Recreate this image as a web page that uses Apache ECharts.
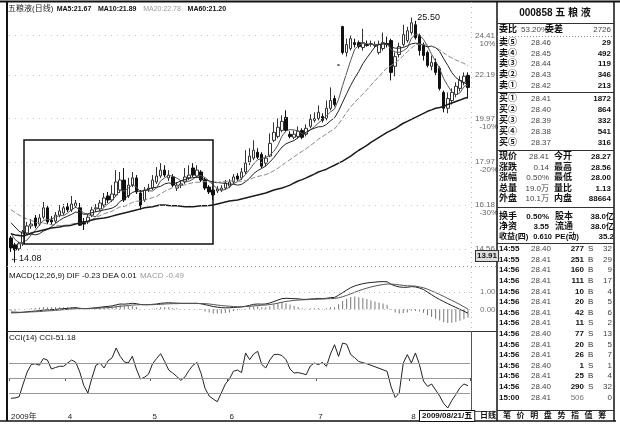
<!DOCTYPE html>
<html><head><meta charset="utf-8">
<script src="https://cdn.jsdelivr.net/npm/echarts@6/dist/echarts.min.js"></script>
<style>html,body{margin:0;padding:0;background:#fff}#c{width:620px;height:426px}</style>
</head><body><div id="c"></div>
<script>
// ---------- data ----------
// candlestick: [open, close, low, high]
const ohlc = [
[14.95,14.59,14.45,15.02],[14.70,14.52,14.08,14.77],[14.56,14.74,14.49,14.81],[14.74,15.17,14.66,15.24],[15.13,15.39,15.06,15.54],
[15.39,15.46,15.28,15.65],[15.69,15.39,15.31,15.80],[15.46,15.69,15.39,15.84],[15.72,16.08,15.65,16.31],[16.08,15.54,15.46,16.16],
[15.61,15.54,15.42,15.76],[15.57,15.80,15.50,15.92],[15.80,15.96,15.72,16.19],[15.88,16.08,15.80,16.23],[16.12,16.00,15.92,16.27],
[16.00,16.23,15.92,16.55],[16.16,16.27,16.08,16.39],[16.08,15.42,15.39,16.27],[15.54,15.46,15.24,15.69],[15.54,15.72,15.46,15.84],
[15.80,16.00,15.72,16.12],[16.04,16.08,15.92,16.23],[16.04,16.27,15.96,16.39],[16.19,16.47,16.12,16.67],[16.55,16.39,16.27,16.71],
[16.39,16.63,16.31,16.99],[16.59,17.12,16.51,17.62],[16.79,17.20,16.67,17.54],[17.20,16.39,16.31,17.71],[16.55,16.99,16.47,17.29],
[16.99,17.29,16.91,17.54],[17.29,16.71,16.63,17.41],[16.67,16.16,16.00,16.79],[16.39,16.79,16.31,16.91],[16.83,16.87,16.71,17.04],
[16.87,17.20,16.79,17.41],[17.12,17.37,17.04,17.75],[17.37,17.62,17.29,17.92],[17.62,17.41,17.33,17.83],[17.29,17.41,17.16,17.62],
[17.33,16.99,16.91,17.45],[16.87,16.99,16.75,17.12],[16.99,17.04,16.87,17.16],[17.12,17.33,17.04,17.71],[17.29,17.41,17.20,17.83],
[17.71,17.41,17.33,17.92],[17.37,17.62,17.29,17.83],[17.54,17.20,17.12,17.62],[17.20,16.87,16.79,17.29],[16.91,16.71,16.63,16.99],
[16.79,16.59,16.39,16.95],[16.75,16.83,16.67,16.95],[16.79,16.87,16.71,16.99],[16.87,17.08,16.79,17.20],[16.95,17.12,16.87,17.24],
[17.12,17.33,17.04,17.45],[17.37,17.24,17.16,17.49],[17.29,17.54,17.20,17.71],[17.54,17.92,17.45,18.49],[17.97,18.23,17.83,18.58],
[18.14,18.49,18.05,18.94],[18.40,18.18,18.10,18.58],[18.31,17.79,17.71,18.40],[17.92,18.14,17.79,18.27],[18.23,18.80,18.18,19.26],
[18.94,19.31,18.85,19.78],[19.12,19.55,19.03,19.97],[19.40,19.83,19.31,20.12],[20.02,19.40,19.31,20.37],[19.22,19.12,19.03,19.36],
[19.08,19.22,18.99,19.40],[19.12,19.36,19.03,19.59],[19.40,19.08,18.99,19.50],[19.22,19.50,19.12,19.69],[19.59,19.93,19.50,20.17],
[19.88,19.97,19.78,20.27],[19.97,20.27,19.88,20.61],[20.07,19.88,19.78,20.22],[19.97,20.47,19.88,20.86],[20.47,20.86,20.37,21.53],
[20.96,20.66,20.56,21.12],[22.73,22.73,22.73,22.73],[24.95,23.43,23.32,25.00],[23.43,23.89,23.20,24.23],[23.66,24.23,23.54,24.41],
[24.00,23.89,23.72,24.23],[24.00,23.77,23.66,24.12],[23.72,24.00,23.54,24.82],[23.89,23.83,23.77,24.12],[23.89,23.95,23.77,24.12],
[23.83,23.89,23.72,24.06],[23.43,23.89,23.32,24.12],[23.66,24.00,23.54,24.59],[23.95,23.89,23.72,24.35],[24.12,22.33,21.90,24.23],
[22.66,23.20,22.12,23.43],[23.32,23.77,23.15,24.00],[23.89,24.47,23.77,25.06],[24.12,24.70,24.00,24.94],[24.59,25.18,24.47,25.50],
[25.06,24.29,24.18,25.30],[24.41,23.54,23.26,24.53],[23.83,23.26,22.98,24.00],[23.43,22.71,22.60,23.54],[22.66,22.87,22.44,23.26],
[22.87,22.33,22.17,23.09],[22.55,21.48,21.37,22.66],[21.27,20.47,20.27,21.37],[20.47,20.96,20.22,21.27],[20.86,21.27,20.66,21.48],
[21.17,21.59,21.02,21.80],[21.48,21.90,21.32,22.12],[21.80,22.12,21.64,22.33],[22.17,21.53,20.96,22.33]
];
const ma5 = [15.11,14.89,14.78,14.79,14.88,15.06,15.23,15.42,15.60,15.63,
15.65,15.73,15.78,15.78,15.88,16.01,16.11,16.00,15.88,15.82,
15.77,15.74,15.91,16.11,16.24,16.37,16.58,16.76,16.75,16.87,
17.00,16.92,16.71,16.79,16.76,16.75,16.88,17.17,17.29,17.40,
17.36,17.28,17.17,17.15,17.15,17.24,17.36,17.39,17.30,17.16,
17.00,16.84,16.77,16.82,16.90,17.05,17.13,17.26,17.43,17.65,
17.88,18.07,18.12,18.17,18.28,18.44,18.72,19.13,19.38,19.44,
19.42,19.39,19.24,19.26,19.42,19.57,19.75,19.91,20.10,20.29,
20.43,20.92,21.63,22.31,22.99,23.63,23.84,23.96,23.94,23.89,
23.89,23.91,23.91,23.92,23.60,23.46,23.44,23.53,23.69,24.26,
24.48,24.44,24.19,23.80,23.33,22.94,22.53,21.99,21.62,21.30,
21.15,21.24,21.57,21.68];
const ma10 = [15.51,15.35,15.19,15.12,15.09,15.09,15.06,15.10,15.20,15.26,
15.36,15.48,15.60,15.69,15.76,15.83,15.92,15.89,15.83,15.85,
15.89,15.93,15.96,16.00,16.03,16.07,16.16,16.34,16.43,16.56,
16.69,16.75,16.74,16.77,16.82,16.88,16.90,16.94,17.04,17.08,
17.06,17.08,17.17,17.22,17.28,17.30,17.32,17.28,17.23,17.16,
17.12,17.10,17.08,17.06,17.03,17.03,16.99,17.02,17.13,17.28,
17.47,17.60,17.69,17.80,17.97,18.16,18.40,18.63,18.78,18.86,
18.93,19.06,19.19,19.32,19.43,19.50,19.57,19.58,19.68,19.86,
20.00,20.34,20.77,21.21,21.64,22.03,22.38,22.80,23.13,23.44,
23.76,23.88,23.94,23.93,23.75,23.68,23.68,23.72,23.81,23.93,
23.97,23.94,23.85,23.75,23.80,23.71,23.49,23.08,22.71,22.32,
22.05,21.89,21.78,21.65];
const ma20 = [16.01,15.90,15.80,15.71,15.65,15.60,15.53,15.50,15.50,15.46,
15.44,15.42,15.40,15.41,15.43,15.46,15.49,15.50,15.52,15.56,
15.63,15.71,15.78,15.85,15.90,15.95,16.04,16.12,16.13,16.21,
16.29,16.34,16.35,16.39,16.43,16.48,16.53,16.64,16.74,16.82,
16.88,16.92,16.96,17.00,17.05,17.09,17.11,17.11,17.14,17.12,
17.09,17.09,17.13,17.14,17.16,17.17,17.16,17.15,17.18,17.22,
17.30,17.35,17.39,17.43,17.50,17.60,17.70,17.83,17.96,18.07,
18.20,18.33,18.44,18.56,18.70,18.83,18.99,19.11,19.23,19.36,
19.47,19.70,19.98,20.27,20.54,20.77,20.98,21.19,21.41,21.65,
21.88,22.11,22.36,22.57,22.70,22.86,23.03,23.26,23.47,23.69,
23.87,23.91,23.90,23.84,23.78,23.70,23.59,23.40,23.26,23.13,
23.01,22.92,22.82,22.70];
const ma60 = [15.10,15.06,15.04,15.02,15.06,15.13,15.17,15.20,15.24,15.28,
15.31,15.33,15.35,15.39,15.40,15.42,15.46,15.50,15.54,15.57,
15.61,15.65,15.67,15.69,15.72,15.76,15.80,15.84,15.88,15.92,
15.96,16.00,16.04,16.08,16.10,16.12,16.16,16.19,16.19,16.17,
16.16,16.16,16.14,16.12,16.12,16.12,16.14,16.16,16.16,16.17,
16.19,16.23,16.27,16.31,16.35,16.37,16.39,16.43,16.47,16.51,
16.55,16.59,16.63,16.67,16.73,16.79,16.83,16.87,16.93,16.99,
17.08,17.16,17.22,17.29,17.37,17.45,17.54,17.60,17.66,17.75,
17.83,17.92,18.01,18.12,18.23,18.36,18.49,18.60,18.71,18.85,
18.96,19.08,19.19,19.31,19.40,19.50,19.62,19.74,19.83,19.93,
20.02,20.12,20.22,20.32,20.39,20.47,20.51,20.56,20.66,20.73,
20.81,20.88,20.96,21.02];
const dif = [-0.20,-0.20,-0.19,-0.17,-0.14,-0.12,-0.10,-0.08,-0.04,-0.03,
-0.02,0.00,0.02,0.04,0.06,0.08,0.10,0.06,0.04,0.05,
0.07,0.09,0.12,0.15,0.17,0.20,0.26,0.31,0.30,0.32,
0.35,0.33,0.28,0.27,0.27,0.29,0.31,0.35,0.37,0.38,
0.37,0.36,0.35,0.35,0.35,0.35,0.35,0.32,0.27,0.22,
0.16,0.13,0.10,0.09,0.09,0.11,0.12,0.14,0.18,0.23,
0.29,0.31,0.30,0.31,0.37,0.45,0.54,0.62,0.64,0.63,
0.62,0.61,0.58,0.58,0.60,0.61,0.63,0.62,0.64,0.68,
0.69,0.82,0.97,1.12,1.26,1.36,1.43,1.49,1.53,1.56,
1.58,1.60,1.61,1.60,1.45,1.36,1.30,1.28,1.28,1.32,
1.30,1.24,1.15,1.00,0.85,0.70,0.57,0.45,0.33,0.22,
0.11,0.00,-0.11,-0.23];
const dea = [-0.15,-0.16,-0.17,-0.17,-0.16,-0.15,-0.14,-0.13,-0.11,-0.09,
-0.08,-0.06,-0.04,-0.02,0.00,0.02,0.04,0.04,0.04,0.04,
0.05,0.06,0.07,0.09,0.10,0.12,0.15,0.18,0.20,0.22,
0.25,0.26,0.27,0.27,0.27,0.27,0.28,0.29,0.31,0.32,
0.33,0.33,0.34,0.34,0.34,0.34,0.34,0.34,0.33,0.31,
0.28,0.25,0.22,0.20,0.18,0.16,0.15,0.15,0.16,0.17,
0.20,0.22,0.24,0.25,0.28,0.31,0.36,0.41,0.46,0.49,
0.52,0.54,0.55,0.56,0.57,0.58,0.59,0.60,0.61,0.62,
0.63,0.67,0.73,0.81,0.90,0.99,1.08,1.16,1.23,1.30,
1.35,1.40,1.44,1.47,1.47,1.45,1.42,1.39,1.37,1.36,
1.35,1.30,1.25,1.17,1.07,0.97,0.86,0.75,0.63,0.52,
0.40,0.28,0.15,0.01];
const macdHist = [-0.10,-0.08,-0.04,0.00,0.04,0.06,0.08,0.10,0.14,0.12,
0.12,0.12,0.12,0.12,0.12,0.12,0.12,0.04,0.00,0.02,
0.04,0.06,0.10,0.12,0.14,0.16,0.22,0.26,0.20,0.20,
0.20,0.14,0.02,0.00,0.00,0.04,0.06,0.12,0.12,0.12,
0.08,0.06,0.02,0.02,0.02,0.02,0.02,-0.04,-0.12,-0.18,
-0.24,-0.24,-0.24,-0.22,-0.18,-0.10,-0.06,-0.02,0.04,0.12,
0.18,0.18,0.12,0.12,0.18,0.28,0.36,0.42,0.36,0.28,
0.20,0.14,0.06,0.04,0.06,0.06,0.08,0.04,0.06,0.12,
0.12,0.30,0.48,0.62,0.72,0.74,0.70,0.66,0.60,0.52,
0.46,0.40,0.34,0.26,-0.04,-0.18,-0.24,-0.22,-0.18,-0.08,
-0.10,-0.12,-0.20,-0.34,-0.44,-0.55,-0.65,-0.75,-0.80,-0.78,
-0.74,-0.66,-0.58,-0.49];
const cci = [-135,-133,-125,-40,40,90,95,85,130,120,
60,70,78,78,100,120,105,40,-50,-100,
0,85,100,67,115,135,200,144,108,100,
145,60,-7,5,25,95,130,162,110,53,
33,10,-16,7,50,85,104,30,-70,-120,
-140,-158,-100,-40,-7,45,53,36,167,122,
160,178,90,67,120,156,158,150,122,60,
33,36,30,22,80,100,89,104,78,160,
222,144,233,225,156,135,110,102,95,85,
75,65,55,44,-60,-130,-100,100,156,100,
167,90,-20,-56,-40,-80,-120,-170,-200,-150,
-110,-65,-40,-51.18];

// axis ticks / labels
const monthIdx = [0, 14, 35, 54, 76, 99];
const monthLabels = ['2009年', '4', '5', '6', '7', '8'];
const priceTicks = [24.41, 22.19, 19.97, 17.97, 16.18, 14.56];
const priceTickPct = ['10%', '', '-10%', '-20%', '-30%', '-40%'];
const macdTicks = [1.00, 0.00];
const cciLines = [100, 0, -100];
const cciTicks = [150, 0];
const cciTickText = ['150.0', '0.00'];

// quote panel text
const quoteTitle = '000858 五 粮 液';
const weibi = ['委比', '53.20%', '委差', '2726'];
const sells = [['卖⑤','28.46','29'],['卖④','28.45','492'],['卖③','28.44','119'],['卖②','28.43','346'],['卖①','28.42','213']];
const buys = [['买①','28.41','1872'],['买②','28.40','864'],['买③','28.39','332'],['买④','28.38','541'],['买⑤','28.37','316']];
const stats1 = [['现价','28.41','今开','28.27'],['涨跌','0.14','最高','28.56'],['涨幅','0.50%','最低','28.00'],['总量','19.0万','量比','1.13'],['外盘','10.1万','内盘','88664']];
const stats2 = [['换手','0.50%','股本','38.0亿'],['净资','3.55','流通','38.0亿'],['收益(四)','0.610','PE(动)','35.2']];
const trades = [['14:55','28.40','277','S','32'],['14:55','28.41','251','B','29'],['14:56','28.41','160','B','9'],['14:56','28.41','111','B','17'],
['14:56','28.41','10','B','4'],['14:56','28.41','20','B','5'],['14:56','28.41','42','B','6'],['14:56','28.41','11','S','2'],
['14:56','28.40','77','S','13'],['14:56','28.41','20','B','5'],['14:56','28.41','26','B','7'],['14:56','28.40','1','S','1'],
['14:56','28.41','25','B','4'],['14:56','28.40','290','S','32'],['15:00','28.41','506','','0']];
const tabs = ['笔','价','明','盘','势','指','值','筹'];

// ---------- chart ----------
const FN = '"Liberation Sans","Noto Sans CJK SC",sans-serif';
const idx = ohlc.map((_, i) => i);
const chart = echarts.init(document.getElementById('c'), null, {renderer: 'canvas'});

function T(x, y, text, o) {
  o = o || {};
  return {type: 'text', x: x, y: y, silent: true, z: 100,
    style: {text: text, fill: o.fill || '#111', font: (o.bold ? 'bold ' : '') + (o.size || 9) + 'px ' + FN,
      align: o.align || 'left', verticalAlign: 'middle'}};
}
function L(x1, y1, x2, y2, o) {
  o = o || {};
  return {type: 'line', silent: true, z: 90, shape: {x1: x1, y1: y1, x2: x2, y2: y2},
    style: {stroke: o.color || '#111', lineWidth: o.w || 1, lineDash: o.dash || null}};
}

const g = [];
// frame
g.push(L(0, 1.5, 620, 1.5, {w: 2}));
g.push(L(7, 1, 7, 421, {w: 2}));
g.push(L(0, 421, 616, 421, {w: 1.5}));
g.push(L(497, 1, 497, 421, {w: 1.5}));
g.push(L(614, 1, 614, 421, {w: 1.5}));
g.push(L(7, 266.5, 497, 266.5, {color: '#999', dash: [1, 3]}));
g.push(L(7, 331.5, 497, 331.5, {color: '#333'}));
g.push(L(471.5, 331, 471.5, 412, {color: '#555'}));
g.push(L(471.5, 2, 471.5, 331, {color: '#bbb', dash: [1, 4]}));
g.push(L(471.5, 411.5, 497, 411.5, {color: '#555'}));
// annotation box
g.push({type: 'rect', silent: true, z: 95, shape: {x: 24, y: 140, width: 189, height: 104},
  style: {fill: 'none', stroke: '#111', lineWidth: 1.5}});
// header texts
g.push({type: 'text', x: 8, y: 9, silent: true, z: 100, style: {
  text: '{n|五粮液(日线)} {b|MA5:21.67}  {b|MA10:21.89}  {g|MA20:22.78}  {b|MA60:21.20}',
  verticalAlign: 'middle',
  rich: {n: {font: '8px ' + FN, fill: '#222'}, b: {font: 'bold 7px ' + FN, fill: '#111'}, g: {font: '7px ' + FN, fill: '#999'}}}});
g.push({type: 'text', x: 9, y: 276, silent: true, z: 100, style: {
  text: '{b|MACD(12,26,9) DIF -0.23 DEA 0.01} {g|MACD -0.49}', verticalAlign: 'middle',
  rich: {b: {font: '8px ' + FN, fill: '#111'}, g: {font: '8px ' + FN, fill: '#999'}}}});
g.push(T(9, 338, 'CCI(14) CCI-51.18', {size: 8}));
// current price marker + date box
g.push({type: 'text', x: 476, y: 256, silent: true, z: 100, style: {text: '13.91', font: 'bold 8px ' + FN, fill: '#111',
  verticalAlign: 'middle', backgroundColor: '#ddd', borderColor: '#333', borderWidth: 1, padding: [1, 1]}});
g.push({type: 'text', x: 420, y: 416, silent: true, z: 100, style: {text: '2009/08/21/五', font: 'bold 8px ' + FN, fill: '#111',
  verticalAlign: 'middle', backgroundColor: '#fff', borderColor: '#111', borderWidth: 1, padding: [1, 2]}});

// quote panel
const LS = 9;
g.push(T(555, 13, quoteTitle, {bold: true, size: 10, align: 'center'}));
g.push(L(497, 23.5, 614, 23.5, {color: '#333'}));
g.push(T(499, 30, weibi[0], {size: LS, bold: true}));
g.push(T(521, 30, weibi[1], {size: 8, fill: '#444'}));
g.push(T(545, 30, weibi[2], {size: LS, bold: true}));
g.push(T(611, 30, weibi[3], {size: 8, fill: '#444', align: 'right'}));
g.push(L(497, 36.5, 614, 36.5, {color: '#888', dash: [1, 2]}));
const sellY = [43, 54, 64, 75, 86];
sells.forEach((r, k) => { g.push(T(499, sellY[k], r[0], {size: LS, bold: true})); g.push(T(531, sellY[k], r[1], {size: 8, fill: '#444'})); g.push(T(611, sellY[k], r[2], {size: 8, bold: true, align: 'right'})); });
g.push(L(497, 92.5, 614, 92.5, {color: '#333'}));
const buyY = [99, 110, 121, 132, 143];
buys.forEach((r, k) => { g.push(T(499, buyY[k], r[0], {size: LS, bold: true})); g.push(T(531, buyY[k], r[1], {size: 8, fill: '#444'})); g.push(T(611, buyY[k], r[2], {size: 8, bold: true, align: 'right'})); });
g.push(L(497, 150.5, 614, 150.5, {color: '#333'}));
const s1Y = [157, 167.5, 178, 188.5, 199];
stats1.forEach((r, k) => { g.push(T(499, s1Y[k], r[0], {size: LS, bold: true})); g.push(T(549, s1Y[k], r[1], {size: 8, fill: '#444', align: 'right'})); g.push(T(554, s1Y[k], r[2], {size: LS, bold: true})); g.push(T(611, s1Y[k], r[3], {size: 8, bold: true, align: 'right'})); });
g.push(L(497, 207.5, 614, 207.5, {color: '#333'}));
const s2Y = [217, 227, 237];
stats2.forEach((r, k) => {
  g.push(T(499, s2Y[k], r[0], {size: k === 2 ? 8 : LS, bold: true}));
  g.push(T(k === 2 ? 552 : 549, s2Y[k], r[1], {size: k === 2 ? 7.5 : 8, bold: true, align: 'right'}));
  g.push(T(555, s2Y[k], r[2], {size: k === 2 ? 8 : LS, bold: true}));
  g.push(T(614, s2Y[k], r[3], {size: 8, bold: true, align: 'right'}));
});
g.push(L(497, 243.5, 614, 243.5, {color: '#333'}));
trades.forEach((r, k) => {
  const y = 249 + k * 10.6;
  g.push(T(499, y, r[0], {size: 8, bold: true}));
  g.push(T(531, y, r[1], {size: 8, fill: '#444'}));
  g.push(T(584, y, r[2], {size: 8, bold: k !== 14, fill: k === 14 ? '#777' : '#111', align: 'right'}));
  g.push(T(588, y, r[3], {size: 8, fill: '#333'}));
  g.push(T(612, y, r[4], {size: 8, fill: '#444', align: 'right'}));
});
g.push(L(497, 410.5, 614, 410.5, {color: '#333'}));
g.push(T(480, 416, '日线', {size: 8, bold: true}));
tabs.forEach((t, k) => g.push(T(503 + k * 13.6, 416, t, {size: 8, bold: true})));

const option = {
  animation: false,
  backgroundColor: '#fff',
  grid: [
    {left: 9, top: 16, width: 461, height: 249},
    {left: 9, top: 268, width: 461, height: 62},
    {left: 9, top: 333, width: 461, height: 78}
  ],
  xAxis: [
    {type: 'category', gridIndex: 0, data: idx, axisLine: {show: false}, axisTick: {show: false}, axisLabel: {show: false}},
    {type: 'category', gridIndex: 1, data: idx, axisLine: {show: false}, axisTick: {show: false}, axisLabel: {show: false}},
    {type: 'category', gridIndex: 2, data: idx,
      axisLine: {show: true, lineStyle: {color: '#999', type: [1, 3]}},
      axisTick: {show: true, interval: (i) => monthIdx.indexOf(i) >= 0, length: 3, lineStyle: {color: '#555'}},
      axisLabel: {show: true, interval: (i) => monthIdx.indexOf(i) >= 0, margin: 2, fontSize: 8, color: '#222', align: 'left',
        fontFamily: FN, formatter: (v, i) => monthLabels[monthIdx.indexOf(i)] || ''}}
  ],
  yAxis: [
    {type: 'log', logBase: 10, gridIndex: 0, min: 14.0, max: 25.6, show: false, splitLine: {show: false}},
    {type: 'value', gridIndex: 1, min: -1.2, max: 2.4, show: false, splitLine: {show: false}},
    {type: 'value', gridIndex: 2, min: -220, max: 300, show: false, splitLine: {show: false}}
  ],
  series: [
    {type: 'candlestick', xAxisIndex: 0, yAxisIndex: 0, data: ohlc, barWidth: 3,
      itemStyle: {color: '#fff', color0: '#111', borderColor: '#333', borderColor0: '#111', borderWidth: 1},
      markLine: {silent: true, symbol: 'none', precision: 2,
        lineStyle: {color: '#c8c8c8', type: [1, 5], width: 1},
        label: {show: true, position: 'end', distance: 5, fontSize: 8, color: '#666', fontFamily: FN, lineHeight: 8},
        data: priceTicks.map((v, k) => ({yAxis: v,
          label: {formatter: priceTickPct[k] ? v.toFixed(2) + '\n  ' + priceTickPct[k] : v.toFixed(2), offset: [0, priceTickPct[k] ? 4 : 0]}}))},
      markPoint: {symbol: 'circle', symbolSize: 0, silent: true,
        label: {show: true, fontSize: 9, color: '#111', fontFamily: FN},
        data: [
          {coord: [99, 25.50], label: {formatter: '25.50', position: [6, -5]}},
          {coord: [1, 14.08], label: {formatter: '←14.08', position: [-5, -9]}}
        ]}},
    {type: 'line', name: 'MA5', xAxisIndex: 0, yAxisIndex: 0, data: ma5, symbol: 'none', lineStyle: {color: '#555', width: 1}},
    {type: 'line', name: 'MA10', xAxisIndex: 0, yAxisIndex: 0, data: ma10, symbol: 'none', lineStyle: {color: '#222', width: 1}},
    {type: 'line', name: 'MA20', xAxisIndex: 0, yAxisIndex: 0, data: ma20, symbol: 'none', lineStyle: {color: '#8a8a8a', width: 1, type: [5, 2]}},
    {type: 'line', name: 'MA60', xAxisIndex: 0, yAxisIndex: 0, data: ma60, symbol: 'none', lineStyle: {color: '#1a1a1a', width: 1.5}},
    {type: 'bar', name: 'MACD', xAxisIndex: 1, yAxisIndex: 1, data: macdHist, barWidth: 1, itemStyle: {color: '#777'}},
    {type: 'line', name: 'DIF', xAxisIndex: 1, yAxisIndex: 1, data: dif, symbol: 'none', lineStyle: {color: '#222', width: 1},
      markLine: {silent: true, symbol: 'none', lineStyle: {color: '#bbb', type: [1, 4], width: 1},
        label: {show: true, position: 'end', distance: 10, fontSize: 8, color: '#777', fontFamily: FN},
        data: macdTicks.map(v => ({yAxis: v, label: {formatter: v.toFixed(2)}}))}},
    {type: 'line', name: 'DEA', xAxisIndex: 1, yAxisIndex: 1, data: dea, symbol: 'none', lineStyle: {color: '#555', width: 1}},
    {type: 'line', name: 'CCI', xAxisIndex: 2, yAxisIndex: 2, data: cci, symbol: 'none', lineStyle: {color: '#222', width: 1},
      markLine: {silent: true, symbol: 'none', lineStyle: {color: '#999', type: 'solid', width: 1},
        label: {show: false},
        data: cciLines.map(v => ({yAxis: v})).concat(cciTicks.map((v, k) => ({yAxis: v,
          lineStyle: {opacity: 0},
          label: {show: true, position: 'end', distance: 12, formatter: cciTickText[k], fontSize: 8, color: '#777', fontFamily: FN}})))}}
  ],
  graphic: g
};
chart.setOption(option);
</script>
</body></html>
